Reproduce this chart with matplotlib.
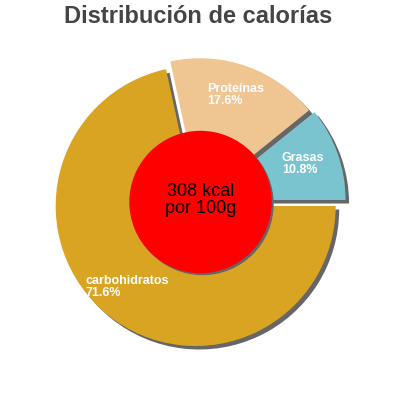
import matplotlib.pyplot as plt
from matplotlib.patches import Circle

# data
labels = ["Grasas", "Proteínas", "carbohidratos"]
values = [10.8, 17.6, 71.6]
colors = ["#7ac4cf", "#efc592", "#d9a422"]
center_text = "308 kcal\npor 100g"
title = "Distribución de calorías"

plt.rcParams['font.family'] = ['Liberation Sans', 'DejaVu Sans']

fig = plt.figure(figsize=(4, 4), dpi=100)
ax = fig.add_axes([0, 0, 1, 1])

cx, cy, R = 198.5, 197.5, 140
explode = [7.5, 4.5, 4.5]   # pie uses data units for the offset
sh = 3.5

shadows, _ = ax.pie(values, explode=explode, colors=["#666666"] * 3, startangle=0,
                    counterclock=True, radius=R, center=(cx + sh, cy - sh), frame=True)
wedges, _ = ax.pie(values, explode=explode, colors=colors, startangle=0,
                   counterclock=True, radius=R, center=(cx, cy), frame=True)
# each slice sits on top of its own shadow, later slices over earlier ones
for i, (s, w) in enumerate(zip(shadows, wedges)):
    s.set_zorder(1 + 2 * i)
    w.set_zorder(2 + 2 * i)

ax.set_xlim(0, 400)
ax.set_ylim(0, 400)
ax.set_aspect('equal')
ax.axis('off')

# labels
label_pos = [(282, 400 - 164), (207, 400 - 95), (86, 400 - 287)]
for (lx, ly), lab, v in zip(label_pos, labels, values):
    ax.text(lx, ly, f"{lab}\n{v}%", color="white", fontsize=9, fontweight="bold",
            ha="left", va="center", linespacing=0.9, zorder=8)

# centre circle
ax.add_patch(Circle((202.5, 196), 70.5, color="#666666", zorder=9))
ax.add_patch(Circle((200.5, 198), 70.5, color="#ff0000", zorder=10))
ax.text(200.5, 200, center_text, ha="center", va="center", fontsize=13,
        color="black", zorder=11, linespacing=1.0)

fig.text(0.495, 0.958, title, ha="center", va="center", fontsize=17,
         fontweight="bold", color="#444444")

fig.savefig("out.png", dpi=100)
